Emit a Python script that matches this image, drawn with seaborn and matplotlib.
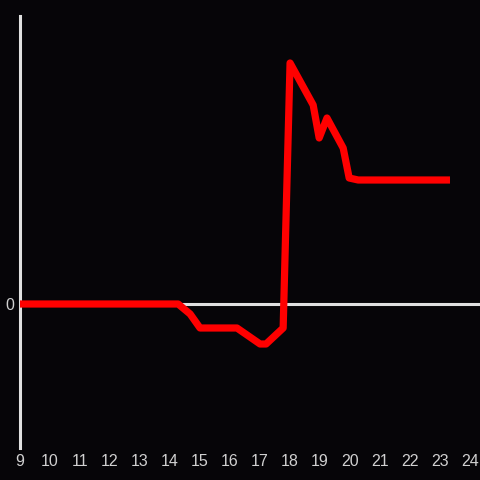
import numpy as np
import pandas as pd
import seaborn as sns
import matplotlib.pyplot as plt

# values (y in arbitrary units)
hours = [9, 14.27, 14.67, 15, 16.23, 17, 17.2, 17.77, 18, 18.77, 18.97, 19.23, 19.77, 19.97, 20.27, 23.33]
values = [0, 0, -1.0, -2.4, -2.4, -4.0, -4.0, -2.4, 24.1, 19.9, 16.6, 18.6, 15.6, 12.6, 12.4, 12.4]
xticks = list(range(9, 25))

bg = '#060508'
sns.set_theme(style='dark')
plt.rcParams['font.family'] = ['Liberation Sans', 'DejaVu Sans']

df = pd.DataFrame({'hour': hours, 'value': values})

fig = plt.figure(figsize=(4.8, 4.8), dpi=100, facecolor=bg)
ax = fig.add_axes([20/480, 1-448/480, 1-20/480, 432/480])
ax.set_facecolor(bg)

ax.axhline(0, color='#e0e0e0', lw=2.2, zorder=1)
sns.lineplot(data=df, x='hour', y='value', ax=ax, color='#ff0000', lw=5.2,
             zorder=3, solid_joinstyle='round', solid_capstyle='butt')

ax.set_xlim(9, 24.33)
ax.set_ylim(-14.4, 28.8)
ax.set_xticks(xticks)
ax.set_xticklabels([str(t) for t in xticks])
ax.set_yticks([0])
ax.set_yticklabels(['0'])
ax.tick_params(colors='#d0d0d0', labelsize=11.5, length=0, pad=4)
ax.set_xlabel('')
ax.set_ylabel('')
ax.grid(False)
for s in ['top', 'right', 'bottom']:
    ax.spines[s].set_visible(False)
ax.spines['left'].set_color('#e0e0e0')
ax.spines['left'].set_linewidth(2.2)

fig.savefig('out.png', dpi=100, facecolor=bg)
